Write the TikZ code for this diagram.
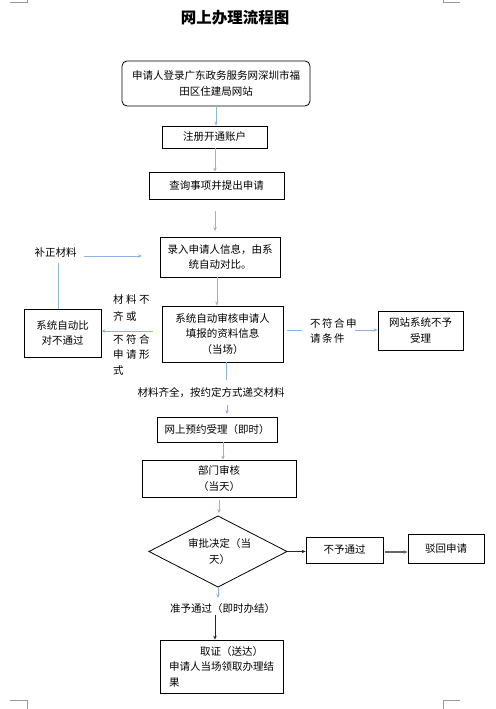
\documentclass[tikz,border=0pt]{standalone}
\usepackage{fontspec}
\newfontfamily\cjk{Noto Sans CJK SC}
\usetikzlibrary{arrows.meta}
\definecolor{lb}{RGB}{141,180,226}
\newcommand\lspa{\hspace{2.5pt}}
\newcommand\lspb{\hspace{1.5pt}}
\begin{document}
\begin{tikzpicture}[x=1pt,y=-1pt,
  font=\cjk\fontsize{10.5}{15.5}\selectfont,
  box/.style={draw=black, line width=0.8pt, inner sep=0pt, align=center},
  lab/.style={inner sep=0pt, align=left},
  arr/.style={draw=lb, line width=0.9pt, -{Stealth[length=4pt,width=3.5pt]}},
  ln/.style={draw=lb, line width=0.9pt},
  darr/.style={draw=black!85, line width=0.8pt, -{Stealth[length=4pt,width=3.5pt]}},
  garr/.style={draw=black!60, line width=1.2pt, -{Stealth[length=4pt,width=3.5pt]}},
  cornermark/.style={draw=black!40, line width=0.6pt}]
\useasboundingbox (0,0) rectangle (495,709);
% page corner marks
\draw[cornermark] (10,2.7) -- (27,2.7) -- (27,0);
\draw[cornermark] (460,2.7) -- (443,2.7) -- (443,0);
\draw[cornermark] (10,700) -- (27,700) -- (27,709);
\draw[cornermark] (460,700) -- (443,700) -- (443,709);
% title
\node[font=\cjk\bfseries\fontsize{15.5}{18}\selectfont] (t) at (235,18) {网上办理流程图};
% boxes
\node[box, rounded corners=5pt, minimum width=188pt, minimum height=45pt] (b1) at (216,83.5) {申请人登录广东政务服务网深圳市福\\田区住建局网站};
\node[box, minimum width=105pt, minimum height=22pt] (b2) at (214.5,137) {注册开通账户};
\node[box, minimum width=135pt, minimum height=27pt] (b3) at (216.5,185.5) {查询事项并提出申请};
\node[box, minimum width=120pt, minimum height=40pt] (b4) at (220,257) {录入申请人信息，由系\\统自动对比。};
\node[box, minimum width=77pt, minimum height=48pt] (b5) at (62.5,333) {系统自动比\\对不通过};
\node[box, minimum width=121pt, minimum height=56pt] (b6) at (222.5,334) {系统自动审核申请人\\填报的资料信息\\（当场）};
\node[box, minimum width=85pt, minimum height=39pt] (b7) at (420.5,330.5) {网站系统不予\\受理};
\node[box, minimum width=120pt, minimum height=25pt] (b8) at (217,429.5) {网上预约受理（即时）};
\node[box, minimum width=154pt, minimum height=37pt] (b9) at (219,478.5) {部门审核\\（当天）};
% diamond
\coordinate (dl) at (149,551.5);
\coordinate (dt) at (218,516);
\coordinate (dr) at (287,551.5);
\coordinate (db) at (218,587);
\draw[line width=0.8pt] (dl) -- (dt) -- (dr) -- (db) -- cycle;
\node[lab, align=center] (dtext) at (219.5,551.5) {审批决定（当\\天）};
\node[box, minimum width=77pt, minimum height=26pt] (b10) at (344.5,550) {不予通过};
\node[box, minimum width=76pt, minimum height=29pt] (b11) at (446,548.5) {驳回申请};
\node[box, minimum width=123pt, minimum height=53pt, align=left] (b12) at (221.5,666.5) {\hspace*{31pt}取证（送达）\\申请人当场领取办理结\\果};
% labels
\node[lab] (bz) at (55.5,253) {补正材料};
\node[lab, anchor=west] (l1) at (113,308.5) {材\lspa 料\lspa 不\\[1.5pt]齐\lspa 或};
\node[lab, anchor=west] (l2) at (113,355) {不\lspa 符\lspa 合\\申\lspa 请\lspa 形\\式};
\node[lab, anchor=west] (l3) at (310,331) {不\lspb 符\lspb 合\lspb 申\\请\lspb 条\lspb 件};
\node[lab] (qq) at (211,393) {材料齐全，按约定方式递交材料};
\node[lab] (zj) at (222.5,609) {准予通过（即时办结）};
% connectors
\coordinate (c12x) at (216,100);
\draw[arr] (b1.south -| c12x) -- (b2.north -| c12x);
\coordinate (c23x) at (215,160);
\draw[arr] (b2.south -| c23x) -- (b3.north -| c23x);
\coordinate (c34) at (215,211);
\draw[arr] (c34) -- (215,231);
\coordinate (c46x) at (217,290);
\draw[arr] (b4.south -| c46x) -- (b6.north -| c46x);
\coordinate (bzx) at (58,263);
\draw[ln] (bzx) -- (bzx |- b5.north);
\coordinate (bza) at (84,256);
\draw[arr] (bza) -- (142,256);
\coordinate (c65) at (153,331);
\draw[arr] (c65) -- (c65 -| b5.east);
\coordinate (c67) at (287,330);
\draw[ln] (c67) -- (302,330);
\coordinate (c67b) at (355,330);
\draw[arr] (c67b) -- (c67b -| b7.west);
\coordinate (qx) at (226,370);
\draw[ln] (b6.south -| qx) -- (226,380);
\coordinate (q1) at (227,405);
\draw[arr] (q1) -- (227,414);
\coordinate (c89x) at (223,450);
\draw[arr] (b8.south -| c89x) -- (b9.north -| c89x);
\coordinate (c9) at (219,500);
\draw[arr] (c9) -- (219,513);
\draw[arr] (db) -- (218,598);
\coordinate (c12b) at (215,615);
\draw[darr] (c12b) -- (c12b |- b12.north);
\draw[darr] (dr) -- (dr -| b10.west);
\coordinate (c1011) at (385,552);
\draw[garr] (c1011) -- (c1011 -| b11.west);
\end{tikzpicture}
\end{document}
